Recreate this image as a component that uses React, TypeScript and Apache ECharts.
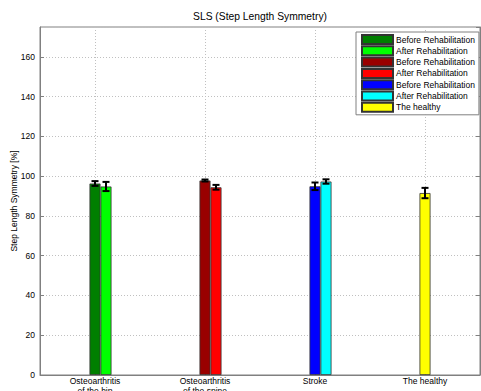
import React, { useEffect, useRef } from "react";
import * as echarts from "echarts";

const categories = ["Osteoarthritis\nof the hip", "Osteoarthritis\nof the spine", "Stroke", "The healthy"];
const beforeValues = [96.3, 97.8, 94.9, 91.5];
const beforeErrors = [1.2, 0.5, 1.9, 2.6];
const afterValues: (number | null)[] = [94.8, 94.4, 97.3, null];
const afterErrors: (number | null)[] = [2.3, 1.2, 1.1, null];
const beforeNames = ["Before Rehabilitation", "Before Rehabilitation", "Before Rehabilitation", "The healthy"];
const afterNames = ["After Rehabilitation", "After Rehabilitation", "After Rehabilitation", ""];
const beforeColors = ["#007f00", "#990000", "#0000ff", "#ffff00"];
const afterColors = ["#00ff00", "#ff0000", "#00ffff", ""];
const yTicks = { min: 0, max: 175, interval: 20 };

const BAR_W = 11;
const FONT = "Liberation Sans, Arial, sans-serif";
const FS = 8.5;

export default function App() {
  const ref = useRef<HTMLDivElement>(null);
  useEffect(() => {
    document.body.style.margin = "0";
    const chart = echarts.init(ref.current!, null, { renderer: "svg" });

    const labelMap: Record<string, string> = {};
    const series: any[] = [
      { type: "bar", name: "_pad", stack: "pad", barWidth: BAR_W, data: [] },
    ];
    const legendOrder: string[] = [];
    const barStyle = { borderColor: "#333", borderWidth: 0.8 };

    categories.forEach((_, ci) => {
      const bId = "before-" + ci;
      labelMap[bId] = beforeNames[ci];
      legendOrder.push(bId);
      series.push({
        type: "bar",
        name: bId,
        stack: "before",
        barWidth: BAR_W,
        barGap: "0%",
        itemStyle: { color: beforeColors[ci], ...barStyle },
        data: categories.map((__, j) => (j === ci ? beforeValues[ci] : null)),
      });
      if (afterValues[ci] != null) {
        const aId = "after-" + ci;
        labelMap[aId] = afterNames[ci];
        legendOrder.push(aId);
        series.push({
          type: "bar",
          name: aId,
          stack: "after",
          barWidth: BAR_W,
          barGap: "0%",
          itemStyle: { color: afterColors[ci], ...barStyle },
          data: categories.map((__, j) => (j === ci ? afterValues[ci] : null)),
        });
      }
    });

    const makeErr = (vals: (number | null)[], errs: (number | null)[], slot: number) => ({
      type: "custom",
      name: "_err" + slot,
      z: 10,
      renderItem: (params: any, api: any) => {
        const cat = api.value(0);
        const v = api.value(1);
        const e = api.value(2);
        const top = api.coord([cat, v + e]);
        const bot = api.coord([cat, v - e]);
        const x = top[0] + slot * BAR_W;
        const cap = 3.5;
        const st = { stroke: "#000", lineWidth: 2 };
        return {
          type: "group",
          children: [
            { type: "line", shape: { x1: x, y1: top[1], x2: x, y2: bot[1] }, style: st },
            { type: "line", shape: { x1: x - cap, y1: top[1], x2: x + cap, y2: top[1] }, style: st },
            { type: "line", shape: { x1: x - cap, y1: bot[1], x2: x + cap, y2: bot[1] }, style: st },
          ],
        };
      },
      data: vals
        .map((v, i) => (v == null ? null : [i, v, errs[i]]))
        .filter((d) => d != null),
    });
    series.push(makeErr(beforeValues, beforeErrors, 0));
    series.push(makeErr(afterValues, afterErrors, 1));

    const axisColor = "#808080";
    chart.setOption({
      animation: false,
      textStyle: { fontFamily: FONT },
      title: {
        text: "SLS (Step Length Symmetry)",
        left: 260,
        textAlign: "center",
        top: 11,
        padding: 0,
        textStyle: { fontSize: 10.3, fontWeight: "normal", color: "#000", fontFamily: FONT },
      },
      legend: {
        data: legendOrder,
        orient: "vertical",
        left: 356,
        top: 32,
        padding: [2, 4, 2, 5],
        itemWidth: 31,
        itemHeight: 9,
        itemGap: 0.3,
        icon: "rect",
        backgroundColor: "#fff",
        borderColor: "#808080",
        borderWidth: 1,
        formatter: (name: string) => labelMap[name] ?? name,
        textStyle: { fontSize: FS, color: "#000", fontFamily: FONT, padding: [0, 0, 0, -2] },
        selectedMode: false,
      },
      grid: {
        left: 40,
        right: 1,
        top: 27,
        bottom: 16,
        outerBoundsMode: "none",
        containLabel: false,
        show: true,
        borderColor: axisColor,
        borderWidth: 1,
        backgroundColor: "#fff",
      },
      xAxis: {
        type: "category",
        data: categories,
        axisLine: { lineStyle: { color: axisColor } },
        axisTick: { show: true, inside: true, length: 4, alignWithLabel: true, lineStyle: { color: axisColor } },
        axisLabel: { fontSize: FS, color: "#000", margin: 1, lineHeight: 10, fontFamily: FONT },
        splitLine: {
          show: true,
          alignWithLabel: true,
          lineStyle: { color: "#c0c0c0", type: [1, 2], width: 1 },
        },
      },
      yAxis: [
        {
          type: "value",
          min: yTicks.min,
          max: yTicks.max,
          interval: yTicks.interval,
          name: "Step Length Symmetry [%]",
          nameLocation: "middle",
          nameGap: 22,
          nameMoveOverlap: false,
          nameTextStyle: { fontSize: FS, color: "#000", fontFamily: FONT },
          axisLine: { show: true, lineStyle: { color: axisColor } },
          axisTick: { show: true, inside: true, length: 4, lineStyle: { color: axisColor } },
          axisLabel: { fontSize: FS, color: "#000", margin: 5, showMaxLabel: false, fontFamily: FONT },
          splitLine: { show: true, lineStyle: { color: "#c0c0c0", type: [1, 2], width: 1 } },
        },
        {
          type: "value",
          position: "right",
          min: yTicks.min,
          max: yTicks.max,
          interval: yTicks.interval,
          axisLine: { show: true, lineStyle: { color: axisColor } },
          axisTick: { show: true, inside: true, length: 4, lineStyle: { color: axisColor } },
          axisLabel: { show: false },
          splitLine: { show: false },
        },
      ],
      series,
    });
    return () => chart.dispose();
  }, []);
  return <div ref={ref} style={{ width: 481, height: 391 }} />;
}
